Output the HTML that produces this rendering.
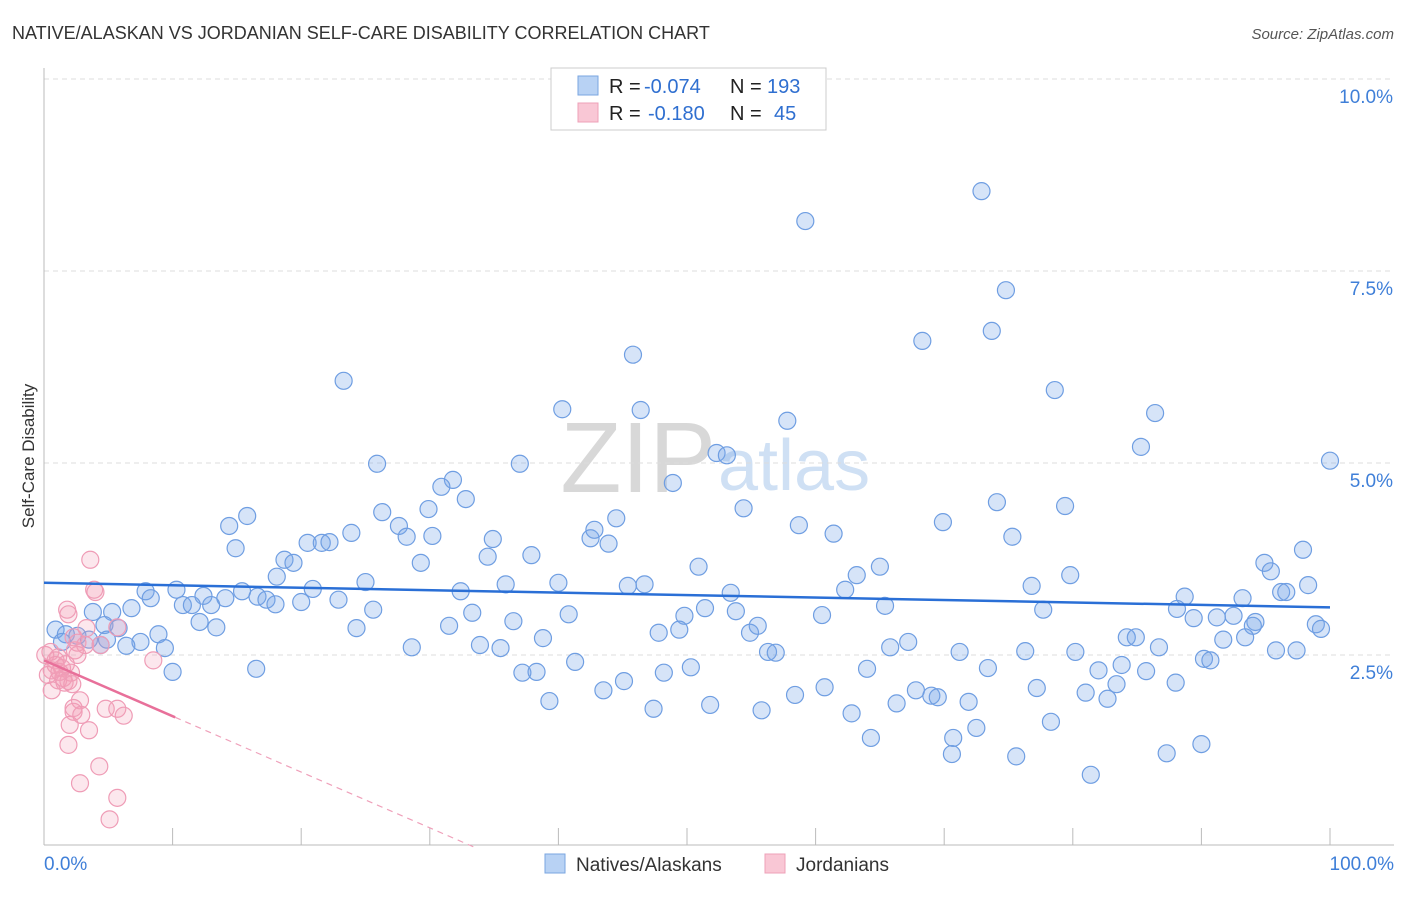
<!DOCTYPE html>
<html><head><meta charset="utf-8"><style>
body{margin:0;background:#fff;font-family:"Liberation Sans",sans-serif;}
svg text{font-family:"Liberation Sans",sans-serif;}
</style></head><body>
<svg id="chart" width="1406" height="892">
<text x="12" y="39" font-size="18" fill="#333">NATIVE/ALASKAN VS JORDANIAN SELF-CARE DISABILITY CORRELATION CHART</text>
<text x="1394" y="39" font-size="15" fill="#555" font-style="italic" text-anchor="end">Source: ZipAtlas.com</text>
<text x="34" y="456" font-size="17" fill="#333" text-anchor="middle" transform="rotate(-90 34 456)">Self-Care Disability</text>
<text x="716" y="492" font-size="100" fill="#d8d8d8" text-anchor="end" font-family="Liberation Serif">ZIP</text>
<text x="718" y="490" font-size="72" fill="#cfe0f4">atlas</text>
<g id="grid"></g><g id="axes"></g><g id="blue"></g><g id="pink"></g><g id="trend"></g>
<rect x="551" y="68" width="275" height="62" fill="#fff" stroke="#ccc"/>
<rect x="578" y="76" width="20" height="19" fill="#b8d2f4" stroke="#7aa6e0"/>
<rect x="578" y="103" width="20" height="19" fill="#f9c7d5" stroke="#eea0b8"/>
<g font-size="20">
<text x="609" y="93" fill="#222">R =</text><text x="644" y="93" fill="#2f6fd0">-0.074</text>
<text x="730" y="93" fill="#222">N =</text><text x="767" y="93" fill="#2f6fd0">193</text></g>
<g font-size="20">
<text x="609" y="120" fill="#222">R =</text><text x="648" y="120" fill="#2f6fd0">-0.180</text>
<text x="730" y="120" fill="#222">N =</text><text x="774" y="120" fill="#2f6fd0">45</text></g>
<rect x="545" y="854" width="20" height="19" fill="#b8d2f4" stroke="#7aa6e0"/>
<text x="576" y="871" font-size="19" fill="#333">Natives/Alaskans</text>
<rect x="765" y="854" width="20" height="19" fill="#f9c7d5" stroke="#eea0b8"/>
<text x="796" y="871" font-size="19" fill="#333">Jordanians</text>
</svg>
<script>
const yTicks=[2.5,5.0,7.5,10.0];
const yTickLabels=["2.5%","5.0%","7.5%","10.0%"];
const xTickLabels=["0.0%","100.0%"];
const blueX=[72.9,59.2,74.8,73.7,68.3,45.8,23.3,78.6,40.3,46.4,57.8,86.4,85.3,100,25.9,37.0,52.3,53.1,31.8,30.9,48.9,32.8,74.1,79.4,54.4,15.8,14.4,26.3,29.9,44.5,58.7,69.9,23.9,27.6,28.2,30.2,34.9,14.9,20.5,21.6,22.2,42.5,42.8,43.9,61.4,75.3,97.9,18.7,19.4,34.5,37.9,29.3,94.9,95.4,50.9,65.0,18.1,25.0,63.2,79.8,98.3,7.9,10.3,8.3,15.4,12.4,14.1,16.6,20.9,32.4,35.9,40.0,45.4,46.7,53.4,62.3,76.8,88.7,96.2,96.6,93.2,10.8,11.5,13.0,17.3,18.0,20.0,22.9,6.8,5.3,3.8,25.6,33.3,40.8,51.4,53.8,60.5,65.4,77.7,88.1,89.4,91.2,92.5,94.2,94.0,49.8,12.1,13.4,24.3,31.5,36.5,5.8,4.7,0.9,1.7,2.6,3.5,1.4,8.9,7.5,9.4,6.4,4.4,4.9,38.8,47.8,49.4,54.9,55.5,84.2,84.9,91.7,93.4,98.9,99.3,28.6,33.9,35.5,67.2,65.8,56.3,56.9,71.2,76.3,80.2,86.7,95.8,97.4,10.0,16.5,41.3,37.2,38.3,48.2,50.3,64.0,73.4,82.0,83.8,85.7,90.2,90.7,43.5,45.1,88.0,60.7,67.8,58.4,69.0,69.5,77.2,81.0,83.4,82.7,39.3,47.4,51.8,55.8,62.8,66.3,71.9,78.3,72.5,64.3,70.7,70.6,75.6,87.3,90.0,81.4];
const blueY=[8.54,8.15,7.25,6.72,6.59,6.41,6.07,5.95,5.70,5.69,5.55,5.65,5.21,5.03,4.99,4.99,5.13,5.10,4.78,4.69,4.74,4.53,4.49,4.44,4.41,4.31,4.18,4.36,4.40,4.28,4.19,4.23,4.09,4.18,4.04,4.05,4.01,3.89,3.96,3.96,3.97,4.02,4.13,3.95,4.08,4.04,3.87,3.74,3.70,3.78,3.80,3.70,3.70,3.59,3.65,3.65,3.52,3.45,3.54,3.54,3.41,3.33,3.35,3.24,3.33,3.27,3.24,3.26,3.36,3.33,3.42,3.44,3.40,3.42,3.31,3.35,3.40,3.26,3.32,3.32,3.24,3.15,3.15,3.15,3.22,3.16,3.19,3.22,3.11,3.06,3.06,3.09,3.05,3.03,3.11,3.07,3.02,3.14,3.09,3.10,2.98,2.99,3.01,2.93,2.88,3.01,2.93,2.86,2.85,2.88,2.94,2.85,2.89,2.83,2.77,2.75,2.70,2.67,2.77,2.67,2.59,2.62,2.63,2.70,2.72,2.79,2.83,2.79,2.88,2.73,2.73,2.70,2.73,2.90,2.84,2.60,2.63,2.59,2.67,2.60,2.54,2.53,2.54,2.55,2.54,2.60,2.56,2.56,2.28,2.32,2.41,2.27,2.28,2.27,2.34,2.32,2.33,2.30,2.37,2.29,2.45,2.43,2.04,2.16,2.14,2.08,2.04,1.98,1.97,1.95,2.07,2.01,2.12,1.93,1.90,1.80,1.85,1.78,1.74,1.87,1.89,1.63,1.55,1.42,1.42,1.21,1.18,1.22,1.34,0.94];
const pinkX=[0.5,0.9,0.6,0.3,1.1,1.5,1.9,2.1,1.4,2.4,3.6,1.8,1.9,3.9,4.0,3.3,2.3,2.6,4.4,5.7,8.5,2.8,2.3,2.3,2.9,4.8,5.7,6.2,2.0,3.5,1.9,4.3,2.8,5.7,5.1,1.1,0.9,1.2,1.6,2.2,3.2,2.6,1.7,0.6,0.1];
const pinkY=[2.54,2.43,2.30,2.24,2.17,2.20,2.16,2.27,2.33,2.56,3.74,3.09,3.03,3.35,3.32,2.85,2.73,2.66,2.63,2.86,2.43,1.91,1.81,1.76,1.72,1.80,1.80,1.71,1.59,1.52,1.33,1.05,0.83,0.64,0.36,2.47,2.37,2.28,2.14,2.12,2.63,2.50,2.38,2.04,2.50];
const blueTrend=[3.44,3.12];
const pinkTrend=[2.43,-0.0727];
const NS='http://www.w3.org/2000/svg';
const X=v=>44+v*12.86, Y=v=>847-v*76.8;
function mk(p,t,a){const e=document.createElementNS(NS,t);for(const k in a)e.setAttribute(k,a[k]);document.getElementById(p).appendChild(e);return e;}
yTicks.forEach((t,i)=>{
 const l=mk('grid','line',{x1:44,x2:1394,y1:Y(t),y2:Y(t),stroke:'#ddd','stroke-dasharray':'5,4'});
 
 
 const tx=mk('grid','text',{x:1393,y:Y(t)+24,'text-anchor':'end','font-size':19,fill:'#3f7fd8'});
 tx.textContent=yTickLabels[i];
 
 
});
let a=mk('axes','line',{x1:44,x2:44,y1:68,y2:845,stroke:'#bbb'});


a=mk('axes','line',{x1:44,x2:1394,y1:845,y2:845,stroke:'#bbb'});


for(let i=1;i<=10;i++){const t=mk('axes','line',{x1:X(i*10),x2:X(i*10),y1:828,y2:845,stroke:'#bbb'});
 
 }
[[44,'start',0],[1394,'end',1]].forEach(([x,an,i])=>{const t=mk('axes','text',{x:x,y:870,'text-anchor':an,'font-size':19,fill:'#3f7fd8'});t.textContent=xTickLabels[i];
 
 });
blueX.forEach((v,i)=>{const c=mk('blue','circle',{cx:X(v),cy:Y(blueY[i]),r:8.5,fill:'rgba(120,165,232,0.3)',stroke:'#6f9ee2','stroke-width':1.2});
 
 });
pinkX.forEach((v,i)=>{const c=mk('pink','circle',{cx:X(v),cy:Y(pinkY[i]),r:8.5,fill:'rgba(245,160,185,0.25)',stroke:'#ef9cb6','stroke-width':1.2});
 
 });
let t=mk('trend','line',{x1:X(0),y1:Y(blueTrend[0]),x2:X(100),y2:Y(blueTrend[1]),stroke:'#2a6fd6','stroke-width':2.5});


const pe=10.2, pz=-pinkTrend[0]/pinkTrend[1];
t=mk('trend','line',{x1:X(0),y1:Y(pinkTrend[0]),x2:X(pe),y2:Y(pinkTrend[0]+pinkTrend[1]*pe),stroke:'#e8709a','stroke-width':2.5});


t=mk('trend','line',{x1:X(pe),y1:Y(pinkTrend[0]+pinkTrend[1]*pe),x2:X(pz),y2:Y(0),stroke:'#efa0ba','stroke-width':1.2,'stroke-dasharray':'6,5'});


</script>
</body></html>
